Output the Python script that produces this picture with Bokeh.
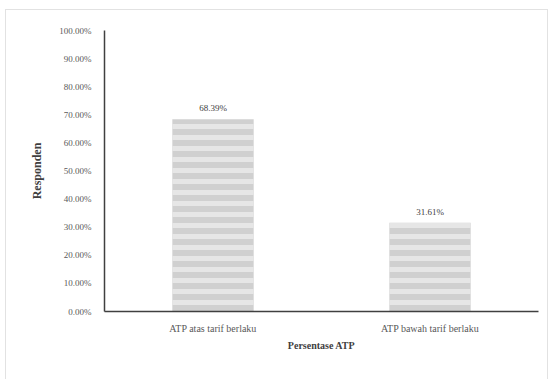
from bokeh.plotting import figure
from bokeh.embed import file_html
from bokeh.resources import INLINE
from bokeh.models import ColumnDataSource, FixedTicker, PrintfTickFormatter, LabelSet, Range1d

categories = ["ATP atas tarif berlaku", "ATP bawah tarif berlaku"]
values = [68.39, 31.61]
labels = ["68.39%", "31.61%"]
y_ticks = [0, 10, 20, 30, 40, 50, 60, 70, 80, 90, 100]

src = ColumnDataSource(dict(cat=categories, val=values, lab=labels))

p = figure(x_range=categories, y_range=Range1d(0, 100), width=543, height=372,
           output_backend="svg", toolbar_location=None,
           min_border_left=98, min_border_right=11, min_border_top=20, min_border_bottom=71)
p.styles = {"margin-left": "5px", "margin-top": "9px", "border": "1px solid #e2e2e2"}
p.outline_line_color = None
p.xgrid.grid_line_color = None
p.ygrid.grid_line_color = None
p.x_range.range_padding = 0.0

p.vbar(x="cat", top="val", width=0.375, source=src,
       fill_color="#d0d0d0", line_color=None,
       hatch_pattern="horizontal_line", hatch_color="#e6e6e6",
       hatch_scale=11, hatch_weight=5)

p.add_layout(LabelSet(x="cat", y="val", text="lab", source=src, text_align="center",
                      text_baseline="bottom", y_offset=6, text_font="Liberation Serif",
                      text_font_size="9px", text_color="#404040"))

p.yaxis.ticker = FixedTicker(ticks=y_ticks)
p.yaxis.formatter = PrintfTickFormatter(format="%.2f%%")
p.yaxis.major_tick_line_color = None
p.yaxis.minor_tick_line_color = None
p.yaxis.axis_line_color = "#404040"
p.yaxis.axis_line_width = 1.5
p.yaxis.major_label_text_font = "Liberation Serif"
p.yaxis.major_label_text_font_size = "9px"
p.yaxis.major_label_text_color = "#595959"
p.yaxis.major_label_standoff = 7
p.yaxis.axis_label = "Responden"
p.yaxis.axis_label_text_font = "Liberation Serif"
p.yaxis.axis_label_text_font_size = "12px"
p.yaxis.axis_label_text_font_style = "bold"
p.yaxis.axis_label_text_color = "#404040"
p.yaxis.axis_label_standoff = 12

p.xaxis.major_tick_line_color = None
p.xaxis.minor_tick_line_color = None
p.xaxis.axis_line_color = "#404040"
p.xaxis.axis_line_width = 1.5
p.xaxis.major_label_text_font = "Liberation Serif"
p.xaxis.major_label_text_font_size = "10px"
p.xaxis.major_label_text_color = "#595959"
p.xaxis.major_label_standoff = 5
p.xaxis.axis_label = "Persentase ATP"
p.xaxis.axis_label_text_font = "Liberation Serif"
p.xaxis.axis_label_text_font_size = "10px"
p.xaxis.axis_label_text_font_style = "bold"
p.xaxis.axis_label_text_color = "#404040"
p.xaxis.axis_label_standoff = 3

open("out.html", "w").write(file_html(p, INLINE))
